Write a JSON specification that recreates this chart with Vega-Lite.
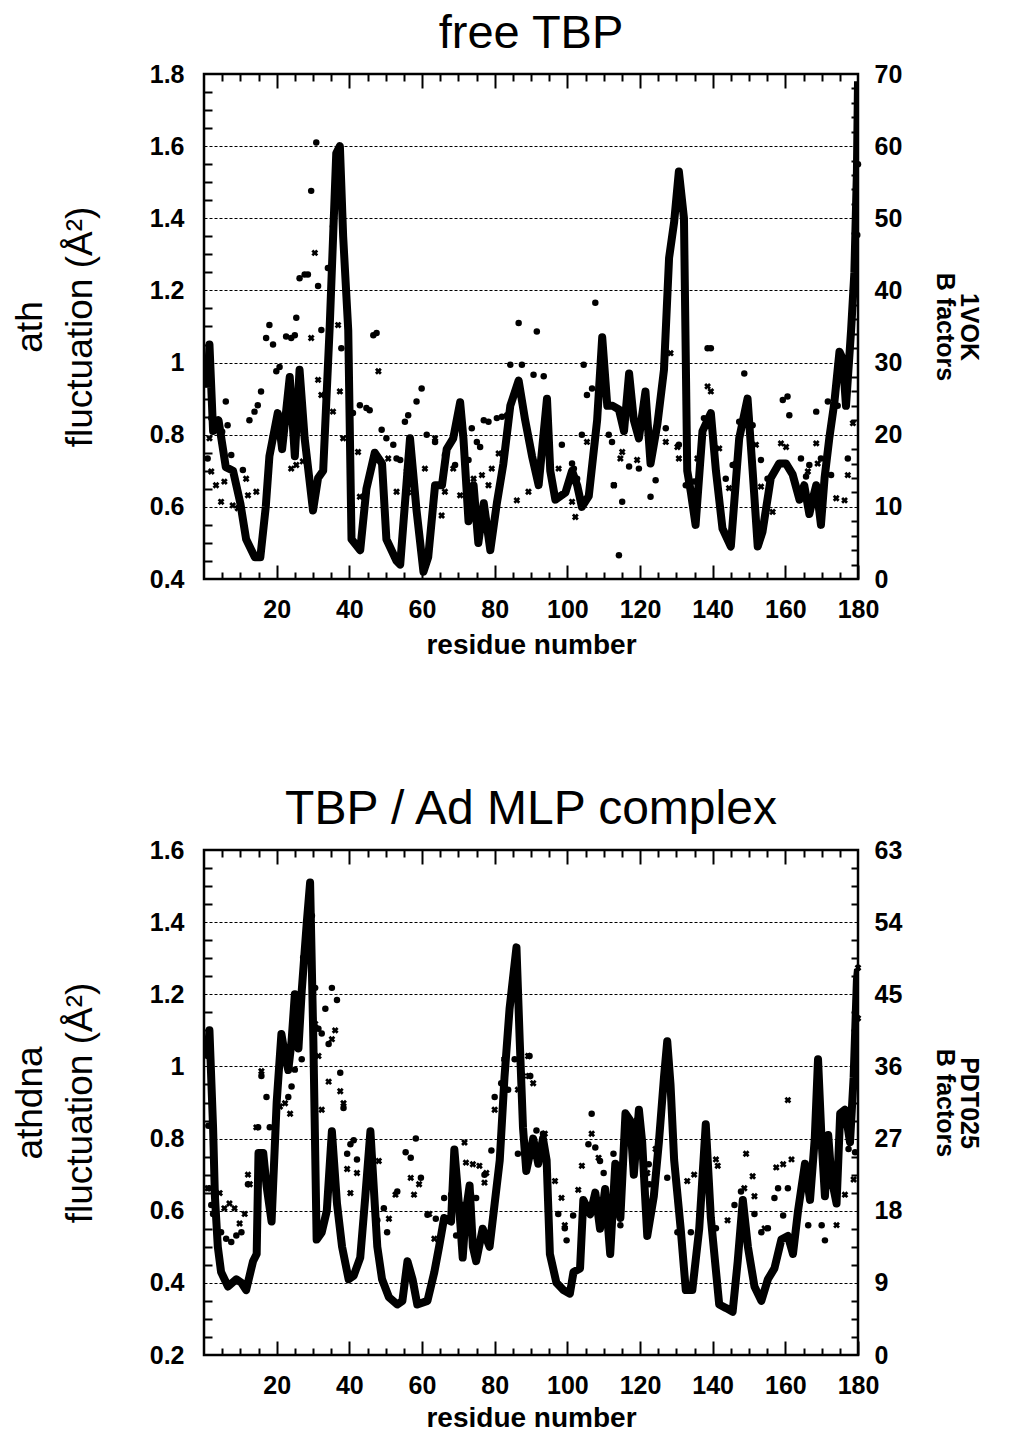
{
  "$schema": "https://vega.github.io/schema/vega-lite/v6.json",
  "background": "white",
  "padding": {"left": 9, "top": 8, "right": 5, "bottom": 0},
  "config": {
    "view": {"stroke": "black", "strokeWidth": 2.5},
    "axis": {
      "domain": false,
      "labelFont": "Liberation Sans",
      "labelFontWeight": "bold",
      "labelFontSize": 25,
      "labelColor": "black",
      "titleFont": "Liberation Sans",
      "titleColor": "black",
      "ticks": true,
      "tickColor": "black",
      "tickOpacity": 1,
      "tickWidth": 2,
      "gridColor": "black",
      "gridDash": [3, 2],
      "gridWidth": 1.2,
      "labelOverlap": false,
      "labelFlush": false
    },
    "title": {"font": "Liberation Sans", "color": "black", "fontWeight": "normal", "frame": "group", "offset": 4}
  },
  "datasets": {
    "topLine": [
      {"r":1,"f":0.93},{"r":1.5,"f":1.05},{"r":2.5,"f":0.81},{"r":4,"f":0.84},{"r":6,"f":0.71},{"r":8,"f":0.70},{"r":10,"f":0.61},{"r":11.6,"f":0.51},{"r":14,"f":0.46},{"r":15.5,"f":0.46},{"r":17,"f":0.60},{"r":18,"f":0.74},{"r":20.3,"f":0.86},{"r":21.5,"f":0.76},{"r":23.6,"f":0.96},{"r":25,"f":0.74},{"r":26.3,"f":0.98},{"r":27.7,"f":0.79},{"r":30,"f":0.59},{"r":31.4,"f":0.68},{"r":32.8,"f":0.70},{"r":34.6,"f":1.10},{"r":36.4,"f":1.58},{"r":37.4,"f":1.60},{"r":38.3,"f":1.35},{"r":39.7,"f":1.09},{"r":40.6,"f":0.51},{"r":43,"f":0.48},{"r":44.7,"f":0.65},{"r":47,"f":0.75},{"r":49,"f":0.72},{"r":50.2,"f":0.51},{"r":53,"f":0.45},{"r":54,"f":0.44},{"r":56.7,"f":0.79},{"r":58.5,"f":0.59},{"r":60.4,"f":0.42},{"r":61.7,"f":0.46},{"r":63.6,"f":0.66},{"r":65.5,"f":0.66},{"r":66.8,"f":0.76},{"r":68.6,"f":0.79},{"r":70.5,"f":0.89},{"r":71.4,"f":0.79},{"r":72.8,"f":0.56},{"r":74.2,"f":0.66},{"r":75.5,"f":0.50},{"r":77,"f":0.61},{"r":78.8,"f":0.48},{"r":80.6,"f":0.61},{"r":82.4,"f":0.72},{"r":84.3,"f":0.88},{"r":86.6,"f":0.95},{"r":88.4,"f":0.84},{"r":90.3,"f":0.74},{"r":92.1,"f":0.66},{"r":94.4,"f":0.90},{"r":95.3,"f":0.70},{"r":96.7,"f":0.62},{"r":99.5,"f":0.64},{"r":101.3,"f":0.70},{"r":102.7,"f":0.66},{"r":104,"f":0.60},{"r":105.9,"f":0.63},{"r":108.2,"f":0.84},{"r":109.6,"f":1.07},{"r":111,"f":0.88},{"r":112.5,"f":0.88},{"r":114.2,"f":0.87},{"r":115.6,"f":0.81},{"r":117,"f":0.97},{"r":118.3,"f":0.84},{"r":119.7,"f":0.79},{"r":121.5,"f":0.92},{"r":122.9,"f":0.72},{"r":124.8,"f":0.83},{"r":126.6,"f":0.98},{"r":128,"f":1.29},{"r":129.4,"f":1.39},{"r":130.7,"f":1.53},{"r":132.1,"f":1.40},{"r":133,"f":0.70},{"r":134,"f":0.64},{"r":135.3,"f":0.55},{"r":137.2,"f":0.81},{"r":139.5,"f":0.86},{"r":140.9,"f":0.70},{"r":142.7,"f":0.54},{"r":145,"f":0.49},{"r":147.3,"f":0.79},{"r":149.6,"f":0.90},{"r":151,"f":0.70},{"r":152.4,"f":0.49},{"r":153.7,"f":0.53},{"r":156,"f":0.68},{"r":158.3,"f":0.72},{"r":160.2,"f":0.72},{"r":162,"f":0.69},{"r":163.9,"f":0.62},{"r":165.2,"f":0.66},{"r":166.6,"f":0.58},{"r":167.5,"f":0.62},{"r":168.5,"f":0.66},{"r":169.8,"f":0.55},{"r":170.8,"f":0.68},{"r":172.1,"f":0.79},{"r":173.5,"f":0.89},{"r":174.9,"f":1.03},{"r":175.8,"f":1.01},{"r":176.7,"f":0.88},{"r":178.1,"f":1.09},{"r":179,"f":1.25},{"r":179.7,"f":1.53},{"r":180,"f":1.78}
    ],
    "topCirc": [
      {"r":1,"b":16.7},{"r":2,"b":22.3},{"r":3,"b":21.8},{"r":5,"b":20.4},{"r":6,"b":24.6},{"r":6.5,"b":21.3},{"r":7.5,"b":17.2},{"r":10.7,"b":15.1},{"r":12.5,"b":22},{"r":13.9,"b":23.2},{"r":14.8,"b":24.1},{"r":15.7,"b":26},{"r":17.1,"b":33.4},{"r":18,"b":35.2},{"r":19,"b":32.5},{"r":19.9,"b":28.8},{"r":20.8,"b":29.4},{"r":22.6,"b":33.6},{"r":24,"b":33.4},{"r":25,"b":33.8},{"r":25.4,"b":36.2},{"r":26.3,"b":41.7},{"r":27.7,"b":42.2},{"r":28.6,"b":42.2},{"r":29.5,"b":53.8},{"r":30.9,"b":60.5},{"r":31.4,"b":40.6},{"r":32.3,"b":34.5},{"r":34.1,"b":43.1},{"r":35.5,"b":48.9},{"r":37.8,"b":32},{"r":41,"b":23},{"r":42.9,"b":24.1},{"r":44.7,"b":23.7},{"r":45.6,"b":23.4},{"r":46.6,"b":33.8},{"r":47.5,"b":34.1},{"r":48.9,"b":20.7},{"r":50.2,"b":19.5},{"r":52.1,"b":18.6},{"r":53,"b":16.7},{"r":54,"b":16.5},{"r":55.3,"b":21.8},{"r":56.2,"b":22.7},{"r":58.5,"b":24.6},{"r":59.9,"b":26.4},{"r":61.3,"b":20},{"r":63.6,"b":19},{"r":66.3,"b":17.2},{"r":69.1,"b":15.8},{"r":72.8,"b":16.5},{"r":73.7,"b":20.9},{"r":75.1,"b":19},{"r":76,"b":18.3},{"r":77,"b":22},{"r":78.3,"b":21.8},{"r":80.6,"b":22.3},{"r":82,"b":22.5},{"r":83.4,"b":22.7},{"r":84.3,"b":29.7},{"r":86.6,"b":35.5},{"r":87.5,"b":29.7},{"r":90.7,"b":28.3},{"r":91.6,"b":34.3},{"r":93.5,"b":28.1},{"r":98.5,"b":18.6},{"r":101.3,"b":16},{"r":101.8,"b":15.3},{"r":102.7,"b":13.9},{"r":104,"b":20},{"r":104.5,"b":29.7},{"r":105.4,"b":25.5},{"r":106.8,"b":26.4},{"r":107.7,"b":38.3},{"r":111.4,"b":20},{"r":112.3,"b":19},{"r":112.8,"b":13},{"r":114.2,"b":3.3},{"r":115.1,"b":10.7},{"r":117,"b":15.6},{"r":119.7,"b":15.3},{"r":122.9,"b":11.4},{"r":124.3,"b":13.7},{"r":127.1,"b":20.9},{"r":130.7,"b":18.6},{"r":132.6,"b":13},{"r":134.9,"b":13.5},{"r":137.6,"b":22.3},{"r":138.6,"b":32},{"r":139.5,"b":32},{"r":143.6,"b":13.9},{"r":145.5,"b":15.8},{"r":147.3,"b":21.8},{"r":148.7,"b":28.5},{"r":151,"b":21.3},{"r":153.3,"b":16.5},{"r":155.1,"b":13.9},{"r":159.3,"b":24.8},{"r":160.6,"b":25.3},{"r":161.1,"b":22.7},{"r":164.3,"b":16.7},{"r":165.7,"b":14.2},{"r":166.6,"b":15.8},{"r":168.5,"b":23.2},{"r":169.8,"b":16.7},{"r":171.7,"b":24.6},{"r":172.6,"b":14.4},{"r":174.4,"b":24},{"r":175.8,"b":29.7},{"r":177.2,"b":16.7},{"r":179.8,"b":47.7},{"r":180,"b":57.5}
    ],
    "topX": [
      {"r":1.5,"b":19.5},{"r":2,"b":14.9},{"r":3.3,"b":13},{"r":4.7,"b":10.7},{"r":5.6,"b":13.5},{"r":7.9,"b":10.2},{"r":9.3,"b":9.8},{"r":11.6,"b":13.9},{"r":12.1,"b":11.6},{"r":14.4,"b":12.1},{"r":19,"b":19.5},{"r":24,"b":15.3},{"r":25.4,"b":15.8},{"r":27.2,"b":16.3},{"r":29.5,"b":33.4},{"r":30.5,"b":45.2},{"r":31.4,"b":27.6},{"r":32.3,"b":25.5},{"r":35.5,"b":23.2},{"r":36.9,"b":35.2},{"r":37.4,"b":26},{"r":38.3,"b":19.5},{"r":42.4,"b":17.6},{"r":42.9,"b":11.4},{"r":48,"b":28.8},{"r":50.7,"b":16.7},{"r":53,"b":12.1},{"r":55.8,"b":14.9},{"r":56.2,"b":12},{"r":60.8,"b":15.3},{"r":63.6,"b":19.5},{"r":65.4,"b":8.8},{"r":66.3,"b":12.1},{"r":68.6,"b":15.3},{"r":70.5,"b":11.6},{"r":74.2,"b":13.9},{"r":76.5,"b":14.4},{"r":78.3,"b":13},{"r":79.2,"b":15.3},{"r":81.1,"b":17.4},{"r":86.1,"b":10.9},{"r":89.3,"b":12.1},{"r":97.6,"b":15.3},{"r":101.3,"b":10.7},{"r":102.2,"b":8.6},{"r":105.4,"b":19},{"r":112.8,"b":13},{"r":114.6,"b":16.7},{"r":115.1,"b":17.6},{"r":119.2,"b":16.5},{"r":127.1,"b":19},{"r":128.4,"b":31.3},{"r":130.3,"b":18.3},{"r":130.7,"b":16.7},{"r":135.8,"b":16.7},{"r":138.6,"b":26.7},{"r":139.5,"b":26},{"r":141.8,"b":18.1},{"r":144.5,"b":12.6},{"r":146.4,"b":16},{"r":151.9,"b":18.6},{"r":153.3,"b":12.8},{"r":156.5,"b":9.3},{"r":158.8,"b":18.8},{"r":160.2,"b":18.3},{"r":166.2,"b":14.9},{"r":168.5,"b":18.8},{"r":168.9,"b":16},{"r":174,"b":11.2},{"r":176.3,"b":10.9},{"r":177.2,"b":14.4},{"r":178.6,"b":21.6}
    ],
    "botLine": [
      {"r":1,"f":1.03},{"r":1.5,"f":1.10},{"r":2.5,"f":0.83},{"r":3,"f":0.64},{"r":3.8,"f":0.50},{"r":4.7,"f":0.43},{"r":6.6,"f":0.39},{"r":8.9,"f":0.41},{"r":10.3,"f":0.40},{"r":11.6,"f":0.38},{"r":13.5,"f":0.46},{"r":14.5,"f":0.48},{"r":15,"f":0.76},{"r":16.3,"f":0.76},{"r":17.2,"f":0.67},{"r":18.6,"f":0.57},{"r":20,"f":0.90},{"r":21.3,"f":1.09},{"r":22.3,"f":1.03},{"r":23.2,"f":0.99},{"r":24.1,"f":1.07},{"r":25,"f":1.20},{"r":26,"f":1.05},{"r":26.9,"f":1.21},{"r":28.3,"f":1.40},{"r":29.2,"f":1.51},{"r":30.1,"f":1.07},{"r":31,"f":0.52},{"r":32.4,"f":0.54},{"r":33.8,"f":0.60},{"r":35.2,"f":0.82},{"r":36.6,"f":0.62},{"r":38,"f":0.50},{"r":39.8,"f":0.41},{"r":41.2,"f":0.42},{"r":43,"f":0.47},{"r":44.4,"f":0.64},{"r":45.8,"f":0.82},{"r":47.7,"f":0.50},{"r":49,"f":0.41},{"r":50.9,"f":0.36},{"r":53.2,"f":0.34},{"r":54.6,"f":0.35},{"r":56,"f":0.46},{"r":57.4,"f":0.41},{"r":58.7,"f":0.34},{"r":61.5,"f":0.35},{"r":63.4,"f":0.43},{"r":64.7,"f":0.50},{"r":66.1,"f":0.58},{"r":68,"f":0.57},{"r":68.9,"f":0.77},{"r":70.3,"f":0.60},{"r":71.2,"f":0.47},{"r":72.1,"f":0.60},{"r":73.1,"f":0.67},{"r":74,"f":0.50},{"r":74.9,"f":0.46},{"r":76.7,"f":0.55},{"r":78.6,"f":0.50},{"r":80,"f":0.62},{"r":81.4,"f":0.74},{"r":82.7,"f":0.97},{"r":84.1,"f":1.16},{"r":86,"f":1.33},{"r":86.9,"f":1.07},{"r":87.8,"f":0.83},{"r":88.7,"f":0.71},{"r":90.6,"f":0.80},{"r":92,"f":0.73},{"r":93.3,"f":0.80},{"r":94.3,"f":0.74},{"r":95.2,"f":0.48},{"r":97,"f":0.40},{"r":98.9,"f":0.38},{"r":100.7,"f":0.37},{"r":101.7,"f":0.43},{"r":103.5,"f":0.44},{"r":104.4,"f":0.63},{"r":106.3,"f":0.59},{"r":107.7,"f":0.65},{"r":109,"f":0.55},{"r":110.4,"f":0.66},{"r":111.8,"f":0.48},{"r":113.2,"f":0.73},{"r":114.6,"f":0.58},{"r":116,"f":0.87},{"r":117.3,"f":0.85},{"r":118.3,"f":0.70},{"r":119.7,"f":0.88},{"r":120.6,"f":0.79},{"r":122,"f":0.53},{"r":123.8,"f":0.64},{"r":125.2,"f":0.79},{"r":126.6,"f":0.97},{"r":127.5,"f":1.07},{"r":128.4,"f":0.95},{"r":129.4,"f":0.74},{"r":131.2,"f":0.55},{"r":132.6,"f":0.38},{"r":134.4,"f":0.38},{"r":136.3,"f":0.55},{"r":138.1,"f":0.84},{"r":139.5,"f":0.58},{"r":141.8,"f":0.34},{"r":143.7,"f":0.33},{"r":145.5,"f":0.32},{"r":146.9,"f":0.46},{"r":148.3,"f":0.63},{"r":149.7,"f":0.50},{"r":151.5,"f":0.39},{"r":153.4,"f":0.35},{"r":155.2,"f":0.41},{"r":157,"f":0.44},{"r":158.9,"f":0.52},{"r":160.7,"f":0.53},{"r":162.1,"f":0.48},{"r":163.5,"f":0.60},{"r":165.4,"f":0.73},{"r":166.8,"f":0.63},{"r":168.1,"f":0.80},{"r":169,"f":1.02},{"r":170,"f":0.79},{"r":170.9,"f":0.64},{"r":171.8,"f":0.81},{"r":172.7,"f":0.69},{"r":174.1,"f":0.62},{"r":175.1,"f":0.87},{"r":176.4,"f":0.88},{"r":177.8,"f":0.79},{"r":178.8,"f":0.97},{"r":179.7,"f":1.24},{"r":180,"f":1.27}
    ],
    "botCirc": [
      {"r":1,"b":37.3},{"r":1.2,"b":28.6},{"r":1.4,"b":20.8},{"r":2,"b":18.7},{"r":2.5,"b":17.6},{"r":3,"b":17.9},{"r":4.7,"b":15.3},{"r":6.1,"b":14.5},{"r":7.5,"b":14.1},{"r":8.9,"b":14.9},{"r":10.3,"b":15.3},{"r":12.1,"b":21.3},{"r":14.9,"b":28.4},{"r":15.8,"b":34.8},{"r":17.2,"b":32.2},{"r":18.1,"b":28.4},{"r":20,"b":31},{"r":23.2,"b":32.2},{"r":24.1,"b":33.5},{"r":25,"b":35.6},{"r":26.9,"b":36.9},{"r":27.3,"b":49.6},{"r":29.7,"b":54.8},{"r":30.6,"b":45.8},{"r":31.5,"b":40.7},{"r":32.4,"b":40.1},{"r":33.4,"b":43.2},{"r":34.3,"b":38.8},{"r":35.2,"b":45.8},{"r":36.6,"b":44.3},{"r":37.5,"b":35.2},{"r":38.4,"b":30.8},{"r":39.4,"b":25.1},{"r":40.3,"b":26.3},{"r":41.2,"b":26.8},{"r":42.1,"b":24.4},{"r":47.7,"b":16.8},{"r":49.5,"b":18.3},{"r":50.4,"b":15.3},{"r":53.2,"b":20.4},{"r":55.5,"b":25.3},{"r":56.9,"b":24.6},{"r":58.3,"b":27},{"r":59.7,"b":22.1},{"r":61.5,"b":17.5},{"r":63.8,"b":17},{"r":66.1,"b":19.6},{"r":68,"b":20},{"r":69.4,"b":14.9},{"r":71.2,"b":18.7},{"r":73.5,"b":20},{"r":74.9,"b":19.6},{"r":77.2,"b":22.5},{"r":79.1,"b":25.5},{"r":80,"b":32.2},{"r":81.8,"b":33.9},{"r":82.7,"b":36.9},{"r":83.7,"b":33.1},{"r":85.5,"b":36.9},{"r":86.4,"b":25.1},{"r":89.6,"b":37.3},{"r":89.8,"b":34.8},{"r":91.5,"b":28},{"r":93.3,"b":27.6},{"r":97.5,"b":17.6},{"r":99.3,"b":15.8},{"r":99.8,"b":14.3},{"r":101.6,"b":17.4},{"r":104.4,"b":18.7},{"r":105.8,"b":26.3},{"r":106.7,"b":30.1},{"r":107.7,"b":25.9},{"r":109,"b":24.2},{"r":110,"b":22.7},{"r":111.3,"b":19.3},{"r":112.7,"b":25.1},{"r":114.6,"b":16.2},{"r":122.4,"b":23.8},{"r":122.6,"b":21.3},{"r":127.5,"b":22.1},{"r":130.3,"b":15.3},{"r":134,"b":15.3},{"r":136.3,"b":17.4},{"r":140.9,"b":15.8},{"r":146,"b":18.7},{"r":147.8,"b":20.4},{"r":151.5,"b":17.6},{"r":153.4,"b":15.3},{"r":155.2,"b":15.8},{"r":157,"b":19.6},{"r":158,"b":20.8},{"r":159.4,"b":17.4},{"r":160.7,"b":20.8},{"r":166.3,"b":16.2},{"r":170,"b":16.2},{"r":170.9,"b":14.3},{"r":177.4,"b":25.7},{"r":179.2,"b":25.3}
    ],
    "botX": [
      {"r":1,"b":20.8},{"r":4.3,"b":20.2},{"r":5.6,"b":18.3},{"r":7,"b":18.9},{"r":8.4,"b":18.3},{"r":9.8,"b":16.4},{"r":11.2,"b":17.6},{"r":12.1,"b":22.5},{"r":12.6,"b":21.3},{"r":14.4,"b":28.4},{"r":15.8,"b":35.4},{"r":20.9,"b":31},{"r":22.3,"b":31.4},{"r":23.7,"b":30.1},{"r":30.6,"b":41.3},{"r":31.5,"b":37.3},{"r":32.4,"b":30.6},{"r":34.3,"b":34.1},{"r":35.2,"b":39.4},{"r":36.1,"b":40.5},{"r":37.5,"b":32.9},{"r":38.4,"b":31.4},{"r":39.4,"b":23.2},{"r":40.3,"b":20.2},{"r":42.1,"b":22.7},{"r":48.1,"b":24.2},{"r":50.9,"b":17},{"r":52.7,"b":20},{"r":56.9,"b":22.1},{"r":57.8,"b":20},{"r":59.2,"b":21.3},{"r":62,"b":17.6},{"r":63.4,"b":14.5},{"r":71.7,"b":26.5},{"r":72.1,"b":24},{"r":74,"b":23.8},{"r":75.8,"b":23.6},{"r":77.2,"b":21.5},{"r":77.7,"b":22.7},{"r":80,"b":30.6},{"r":82.7,"b":36.9},{"r":86.4,"b":33.1},{"r":87.8,"b":34.8},{"r":89.2,"b":37.3},{"r":89.4,"b":34.8},{"r":90.6,"b":33.9},{"r":93.8,"b":27.6},{"r":96.6,"b":21.7},{"r":98.4,"b":19.6},{"r":99.3,"b":16.2},{"r":103,"b":20.6},{"r":104,"b":23.6},{"r":106.7,"b":27.6},{"r":108.6,"b":24.6},{"r":119.2,"b":29.3},{"r":122,"b":22.7},{"r":124.3,"b":25.7},{"r":133,"b":21.7},{"r":134.9,"b":22.5},{"r":140.9,"b":24.4},{"r":141.4,"b":23.6},{"r":144.1,"b":16.8},{"r":148.7,"b":20.8},{"r":149.2,"b":25.1},{"r":151,"b":22.3},{"r":151.5,"b":19.8},{"r":154.3,"b":15.8},{"r":157.5,"b":23.4},{"r":159.4,"b":23.8},{"r":160.7,"b":31.8},{"r":161.7,"b":24.4},{"r":174.1,"b":16.2},{"r":176.4,"b":20},{"r":178.8,"b":21.9},{"r":180,"b":42},{"r":180,"b":48.3}
    ]
  },
  "vconcat": [
    {
      "width": 654,
      "height": 505,
      "title": {"text": "free TBP", "fontSize": 47},
      "resolve": {"scale": {"y": "independent"}, "axis": {"x": "independent"}},
      "layer": [
        {
          "resolve": {"axis": {"x": "independent", "y": "independent"}},
          "layer": [
            {
              "data": {"name": "topLine"},
              "mark": {"type": "line", "color": "black", "strokeWidth": 8, "strokeJoin": "round", "clip": true},
              "encoding": {
                "x": {"field": "r", "type": "quantitative", "scale": {"domain": [0, 180], "nice": false, "zero": false},
                  "axis": {"orient": "bottom", "title": "residue number", "titleFontSize": 28, "titleFontWeight": "bold", "titlePadding": 9,
                    "values": [20,40,60,80,100,120,140,160,180], "tickSize": 14, "offset": -14, "labelPadding": 18, "grid": false}},
                "y": {"field": "f", "type": "quantitative", "scale": {"domain": [0.4, 1.8], "nice": false, "zero": false},
                  "axis": {"orient": "left", "title": ["ath", "fluctuation (Å²)"], "titleFontSize": 37, "titleFontWeight": "normal", "titleLineHeight": 50, "titlePadding": 50,
                    "values": [0.4,0.6,0.8,1,1.2,1.4,1.6,1.8], "format": "~g", "ticks": false, "labelPadding": 20, "grid": true}}
              }
            },
            {
              "data": {"name": "topLine"},
              "mark": {"type": "point", "opacity": 0, "size": 1},
              "encoding": {
                "x": {"field": "r", "type": "quantitative", "scale": {"domain": [0, 180], "nice": false, "zero": false},
                  "axis": {"orient": "bottom", "title": null, "labels": false, "grid": false, "tickSize": 7, "offset": -7,
                    "values": [5,10,15,25,30,35,45,50,55,65,70,75,85,90,95,105,110,115,125,130,135,145,150,155,165,170,175]}},
                "y": {"field": "f", "type": "quantitative", "scale": {"domain": [0.4, 1.8], "nice": false, "zero": false},
                  "axis": {"orient": "left", "title": null, "labels": false, "grid": false, "tickSize": 8, "offset": -8,
                    "values": [0.45,0.5,0.55,0.65,0.7,0.75,0.85,0.9,0.95,1.05,1.1,1.15,1.25,1.3,1.35,1.45,1.5,1.55,1.65,1.7,1.75]}}
              }
            }
          ]
        },
        {
          "resolve": {"axis": {"x": "independent", "y": "independent"}},
          "layer": [
            {
              "data": {"name": "topCirc"},
              "mark": {"type": "point", "shape": "circle", "filled": true, "color": "black", "size": 42, "opacity": 1},
              "encoding": {
                "x": {"field": "r", "type": "quantitative", "scale": {"domain": [0, 180], "nice": false, "zero": false},
                  "axis": {"orient": "top", "title": null, "labels": false, "grid": false, "tickSize": 14, "offset": -14,
                    "values": [20,40,60,80,100,120,140,160]}},
                "y": {"field": "b", "type": "quantitative", "scale": {"domain": [0, 70], "nice": false, "zero": false},
                  "axis": {"orient": "right", "title": ["1VOK", "B factors"], "titleFontSize": 25, "titleFontWeight": "bold", "titleLineHeight": 24, "titlePadding": 30,
                    "values": [0,10,20,30,40,50,60,70], "ticks": false, "labelPadding": 16, "grid": false}}
              }
            },
            {
              "data": {"name": "topX"},
              "mark": {"type": "point", "shape": "cross", "angle": 45, "filled": true, "color": "black", "size": 48, "opacity": 1},
              "encoding": {
                "x": {"field": "r", "type": "quantitative", "scale": {"domain": [0, 180], "nice": false, "zero": false},
                  "axis": {"orient": "top", "title": null, "labels": false, "grid": false, "tickSize": 7, "offset": -7,
                    "values": [5,10,15,25,30,35,45,50,55,65,70,75,85,90,95,105,110,115,125,130,135,145,150,155,165,170,175]}},
                "y": {"field": "b", "type": "quantitative", "scale": {"domain": [0, 70], "nice": false, "zero": false},
                  "axis": {"orient": "right", "title": null, "labels": false, "grid": false, "tickSize": 7, "offset": -7,
                    "values": [2,4,6,8,12,14,16,18,22,24,26,28,32,34,36,38,42,44,46,48,52,54,56,58,62,64,66,68]}}
              }
            }
          ]
        }
      ]
    },
    {
      "width": 654,
      "height": 505,
      "title": {"text": "TBP / Ad MLP complex", "fontSize": 48},
      "resolve": {"scale": {"y": "independent"}, "axis": {"x": "independent"}},
      "layer": [
        {
          "resolve": {"axis": {"x": "independent", "y": "independent"}},
          "layer": [
            {
              "data": {"name": "botLine"},
              "mark": {"type": "line", "color": "black", "strokeWidth": 8, "strokeJoin": "round", "clip": true},
              "encoding": {
                "x": {"field": "r", "type": "quantitative", "scale": {"domain": [0, 180], "nice": false, "zero": false},
                  "axis": {"orient": "bottom", "title": "residue number", "titleFontSize": 28, "titleFontWeight": "bold", "titlePadding": 6,
                    "values": [20,40,60,80,100,120,140,160,180], "tickSize": 14, "offset": -14, "labelPadding": 18, "grid": false}},
                "y": {"field": "f", "type": "quantitative", "scale": {"domain": [0.2, 1.6], "nice": false, "zero": false},
                  "axis": {"orient": "left", "title": ["athdna", "fluctuation (Å²)"], "titleFontSize": 37, "titleFontWeight": "normal", "titleLineHeight": 50, "titlePadding": 50,
                    "values": [0.2,0.4,0.6,0.8,1,1.2,1.4,1.6], "format": "~g", "ticks": false, "labelPadding": 20, "grid": true}}
              }
            },
            {
              "data": {"name": "botLine"},
              "mark": {"type": "point", "opacity": 0, "size": 1},
              "encoding": {
                "x": {"field": "r", "type": "quantitative", "scale": {"domain": [0, 180], "nice": false, "zero": false},
                  "axis": {"orient": "bottom", "title": null, "labels": false, "grid": false, "tickSize": 7, "offset": -7,
                    "values": [5,10,15,25,30,35,45,50,55,65,70,75,85,90,95,105,110,115,125,130,135,145,150,155,165,170,175]}},
                "y": {"field": "f", "type": "quantitative", "scale": {"domain": [0.2, 1.6], "nice": false, "zero": false},
                  "axis": {"orient": "left", "title": null, "labels": false, "grid": false, "tickSize": 8, "offset": -8,
                    "values": [0.25,0.3,0.35,0.45,0.5,0.55,0.65,0.7,0.75,0.85,0.9,0.95,1.05,1.1,1.15,1.25,1.3,1.35,1.45,1.5,1.55]}}
              }
            }
          ]
        },
        {
          "resolve": {"axis": {"x": "independent", "y": "independent"}},
          "layer": [
            {
              "data": {"name": "botCirc"},
              "mark": {"type": "point", "shape": "circle", "filled": true, "color": "black", "size": 42, "opacity": 1},
              "encoding": {
                "x": {"field": "r", "type": "quantitative", "scale": {"domain": [0, 180], "nice": false, "zero": false},
                  "axis": {"orient": "top", "title": null, "labels": false, "grid": false, "tickSize": 14, "offset": -14,
                    "values": [20,40,60,80,100,120,140,160]}},
                "y": {"field": "b", "type": "quantitative", "scale": {"domain": [0, 63], "nice": false, "zero": false},
                  "axis": {"orient": "right", "title": ["PDT025", "B factors"], "titleFontSize": 25, "titleFontWeight": "bold", "titleLineHeight": 24, "titlePadding": 30,
                    "values": [0,9,18,27,36,45,54,63], "ticks": false, "labelPadding": 16, "grid": false}}
              }
            },
            {
              "data": {"name": "botX"},
              "mark": {"type": "point", "shape": "cross", "angle": 45, "filled": true, "color": "black", "size": 48, "opacity": 1},
              "encoding": {
                "x": {"field": "r", "type": "quantitative", "scale": {"domain": [0, 180], "nice": false, "zero": false},
                  "axis": {"orient": "top", "title": null, "labels": false, "grid": false, "tickSize": 7, "offset": -7,
                    "values": [5,10,15,25,30,35,45,50,55,65,70,75,85,90,95,105,110,115,125,130,135,145,150,155,165,170,175]}},
                "y": {"field": "b", "type": "quantitative", "scale": {"domain": [0, 63], "nice": false, "zero": false},
                  "axis": {"orient": "right", "title": null, "labels": false, "grid": false, "tickSize": 7, "offset": -7,
                    "values": [2.25,4.5,6.75,11.25,13.5,15.75,20.25,22.5,24.75,29.25,31.5,33.75,38.25,40.5,42.75,47.25,49.5,51.75,56.25,58.5,60.75]}}
              }
            }
          ]
        }
      ]
    }
  ],
  "spacing": 123
}
